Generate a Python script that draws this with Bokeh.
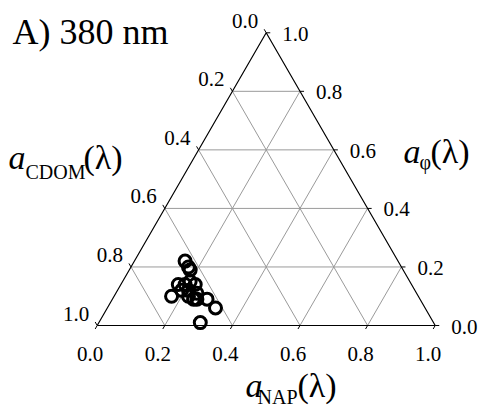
import math
from bokeh.plotting import figure
from bokeh.models import Range1d, ColumnDataSource
from bokeh.core.properties import value
from bokeh.embed import file_html
from bokeh.resources import INLINE

# Fractions of total absorption at 380 nm for each sample
a_nap = [0.15, 0.17, 0.18, 0.17, 0.19, 0.20, 0.22, 0.17, 0.21, 0.24, 0.25, 0.28, 0.32, 0.30, 0.19, 0.24, 0.22]
a_phi = [0.22, 0.20, 0.19, 0.14, 0.14, 0.15, 0.14, 0.10, 0.12, 0.09, 0.09, 0.09, 0.06, 0.01, 0.12, 0.11, 0.10]
a_cdom = [0.63, 0.63, 0.63, 0.69, 0.67, 0.65, 0.64, 0.73, 0.67, 0.67, 0.66, 0.63, 0.62, 0.69, 0.69, 0.65, 0.68]

tick_values = [0.0, 0.2, 0.4, 0.6, 0.8, 1.0]
tick_labels = ["0.0", "0.2", "0.4", "0.6", "0.8", "1.0"]
grid_values = [0.2, 0.4, 0.6, 0.8]

SERIF = "'Liberation Serif', 'Times New Roman', Times, serif"
H = math.sqrt(3) / 2
MID = 0.3375  # height of the em-box middle above the baseline, in em


def tern(n, f):
    """Ternary (NAP, phi) fractions -> cartesian, side length 1."""
    return n + f / 2.0, f * H


W, HT = 480, 409
SCALE = 338.0          # pixels per unit side
X0, Y0 = 96.7, 325.0   # pixel position of the bottom-left corner

p = figure(width=W, height=HT, output_backend="svg", toolbar_location=None,
           x_axis_type=None, y_axis_type=None, min_border=0,
           x_range=Range1d(-X0 / SCALE, (W - X0) / SCALE),
           y_range=Range1d((Y0 - HT) / SCALE, Y0 / SCALE))
p.grid.visible = False
p.outline_line_color = None
p.background_fill_color = "white"
p.border_fill_color = "white"


def at(px, py):
    return (px - X0) / SCALE, (Y0 - py) / SCALE


# grid lines in the three directions
gx, gy = [], []
for v in grid_values:
    for (n1, f1), (n2, f2) in [((v, 0), (v, 1 - v)),
                               ((0, v), (1 - v, v)),
                               ((1 - v, 0), (0, 1 - v))]:
        a, b = tern(n1, f1), tern(n2, f2)
        gx.append([a[0], b[0]])
        gy.append([a[1], b[1]])
p.multi_line(gx, gy, line_color="#9a9a9a", line_width=1)

# triangle frame
corners = [tern(0, 0), tern(1, 0), tern(0, 1), tern(0, 0)]
p.line([c[0] for c in corners], [c[1] for c in corners], line_color="black", line_width=1.2)

# tick marks
TL = 0.012
tx, ty = [], []
for v in tick_values:
    bx, by = tern(v, 0)
    tx.append([bx, bx - 0.5 * TL]); ty.append([by, by - H * TL])
    rx, ry = tern(1 - v, v)
    tx.append([rx, rx + TL]); ty.append([ry, ry])
    lx, ly = tern(0, 1 - v)
    tx.append([lx, lx - 0.5 * TL]); ty.append([ly, ly + H * TL])
p.multi_line(tx, ty, line_color="black", line_width=1)

# tick labels
bottom = ColumnDataSource(dict(x=[tern(v, 0)[0] for v in tick_values],
                               y=[tern(v, 0)[1] for v in tick_values], t=tick_labels))
p.text("x", "y", text="t", source=bottom, text_font=value(SERIF), text_font_size="21px",
       text_align="center", text_baseline="middle", x_offset=-7, y_offset=28, text_color="black")

right = ColumnDataSource(dict(x=[tern(1 - v, v)[0] for v in tick_values],
                              y=[tern(1 - v, v)[1] for v in tick_values], t=tick_labels))
p.text("x", "y", text="t", source=right, text_font=value(SERIF), text_font_size="21px",
       text_align="left", text_baseline="middle", x_offset=16, y_offset=1, text_color="black")

left = ColumnDataSource(dict(x=[tern(0, 1 - v)[0] for v in tick_values],
                             y=[tern(0, 1 - v)[1] for v in tick_values], t=tick_labels))
p.text("x", "y", text="t", source=left, text_font=value(SERIF), text_font_size="21px",
       text_align="right", text_baseline="middle", x_offset=-8, y_offset=-12, text_color="black")


def put(px, baseline, s, size, style="normal"):
    # place text by its left edge and alphabetic baseline (pixels)
    x, y = at(px, baseline - MID * size)
    p.text([x], [y], text=[s], text_font=value(SERIF), text_font_size=f"{size}px",
           text_font_style=style, text_align="left", text_baseline="middle",
           text_color="black")


# panel title
put(12, 44, "A) 380 nm", 36)

# axis titles: italic a, subscript, (λ)
put(8, 168, "a", 34, "italic")
put(25, 178, "CDOM", 20)
put(83, 168, "(λ)", 34)

put(403, 162, "a", 34, "italic")
put(419, 168, "φ", 20)
put(430, 162, "(λ)", 34)

put(245, 396, "a", 34, "italic")
put(257, 403, "NAP", 20)
put(297, 396, "(λ)", 34)

# samples
pts = [tern(n, f) for n, f in zip(a_nap, a_phi)]
src = ColumnDataSource(dict(x=[q[0] for q in pts], y=[q[1] for q in pts],
                            nap=a_nap, phi=a_phi, cdom=a_cdom))
p.scatter("x", "y", source=src, marker="circle", size=12, fill_color=None,
          line_color="black", line_width=3)

open("out.html", "w").write(file_html(p, INLINE))
